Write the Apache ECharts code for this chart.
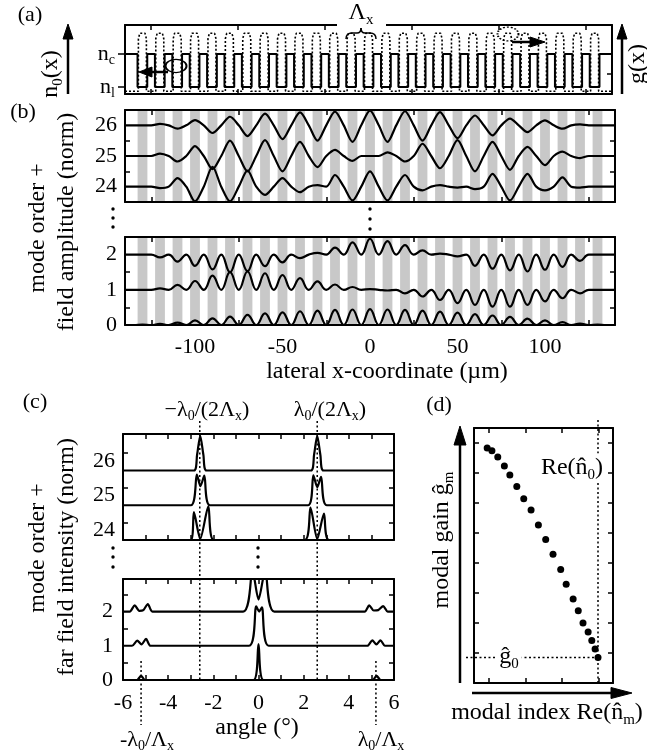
<!DOCTYPE html>
<html>
<head>
<meta charset="utf-8">
<title>Laser array modes</title>
<script src="https://cdn.jsdelivr.net/npm/echarts@6.0.0/dist/echarts.min.js"></script>
<style>
  html, body { margin: 0; padding: 0; background: #fff; }
  #chart { width: 647px; height: 755px; }
</style>
</head>
<body>
<div id="chart"></div>
<script>
// ---------------- data ----------------
// grating element centres (µm)
const elementCentres = [-130, -120, -110, -100, -90, -80, -70, -60, -50, -40, -30, -20, -10, 0,
                        10, 20, 30, 40, 50, 60, 70, 80, 90, 100, 110, 120, 130];
const lateralTickMarks = [-125, -75, -25, 25, 75, 125];
const lateralTickLabels = [-100, -50, 0, 50, 100];

// (a) refractive index and gain levels (normalised)
const indexLevels = [0.1, 0.58];
const indexLevelNames = ['l', 'c'];
const gainLevels = [0.04, 0.88];

// (b) near-field amplitude at each element centre, relative to the mode baseline
const upperModes = [24, 25, 26];
const field24 = [0, -0.05, 0.28, -0.48, 0.65, -0.48, 0.52, -0.27, 0.28, -0.18, 0.05, 0.38, -0.45, 0.5,
                 -0.45, 0.38, -0.12, 0.05, -0.03, -0.08, 0.42, -0.45, 0.42, -0.12, 0.3, -0.03, 0];
const field25 = [0, 0.08, -0.18, 0.32, -0.43, 0.5, -0.5, 0.52, -0.5, 0.46, -0.36, 0.2, -0.16, 0,
                 0.12, -0.18, 0.4, -0.4, 0.52, -0.5, 0.46, -0.45, 0.3, -0.3, 0.14, -0.07, 0];
const field26 = [0, 0.05, -0.11, 0.17, -0.25, 0.28, -0.35, 0.38, -0.45, 0.42, -0.5, 0.45, -0.54, 0.48,
                 -0.54, 0.46, -0.5, 0.43, -0.42, 0.32, -0.33, 0.22, -0.22, 0.16, -0.11, 0.03, 0];
const lowerModes = [0, 1, 2];
const field0 = [0.01, 0.03, 0.07, 0.13, 0.19, 0.24, 0.29, 0.33, 0.36, 0.39, 0.41, 0.43, 0.44, 0.45,
                0.44, 0.43, 0.41, 0.38, 0.35, 0.31, 0.27, 0.23, 0.18, 0.13, 0.08, 0.04, 0.01];
const field1 = [0, 0.04, 0.14, 0.25, 0.4, 0.5, 0.52, 0.47, 0.42, 0.33, 0.24, 0.15, 0.08, 0.02,
                -0.02, -0.1, -0.19, -0.29, -0.38, -0.43, -0.48, -0.48, -0.43, -0.33, -0.24, -0.1, 0];
const field2 = [0, -0.08, -0.2, -0.32, -0.42, -0.5, -0.47, -0.33, -0.22, -0.1, 0.05, 0.2, 0.35, 0.45,
                0.38, 0.27, 0.12, 0.03, -0.05, -0.32, -0.4, -0.45, -0.48, -0.43, -0.35, -0.18, 0];

// (c) far-field intensity: [angle (deg), intensity above the mode baseline]
const angleTickMarks = [-5, -4, -3, -2, -1, 0, 1, 2, 3, 4, 5];
const angleTickLabels = [-6, -4, -2, 0, 2, 4, 6];
const halfBraggAngle = 2.6;
const fullBraggAngle = 5.2;
const farField26 = [[-6, 0], [-2.86, 0], [-2.72, 0.45], [-2.58, 1.0], [-2.44, 0.45], [-2.3, 0],
                    [2.32, 0], [2.46, 0.45], [2.6, 1.0], [2.74, 0.45], [2.88, 0], [6, 0]];
const farField25 = [[-6, 0], [-3.0, 0], [-2.73, 0.88], [-2.57, 0.55], [-2.4, 0.85], [-2.15, 0],
                    [2.2, 0], [2.43, 0.86], [2.6, 0.52], [2.77, 0.82], [3.02, 0], [6, 0]];
const farField24 = [[-6, 0], [-3.0, 0], [-2.86, 0.8], [-2.58, 0.03], [-2.22, 0.97], [-1.98, 0],
                    [2.05, 0], [2.3, 0.93], [2.6, 0.03], [2.9, 0.76], [3.12, 0], [6, 0]];
const farField2 = [[-6, 0], [-5.7, 0], [-5.48, 0.18], [-5.28, 0.02], [-5.1, 0.04], [-4.9, 0.22], [-4.7, 0],
                   [-0.68, 0], [-0.27, 1.2], [0, 0.35], [0.3, 1.2], [0.7, 0],
                   [4.7, 0], [4.9, 0.18], [5.1, 0.03], [5.3, 0.04], [5.52, 0.16], [5.72, 0], [6, 0]];
const farField1 = [[-6, 0], [-5.6, 0], [-5.37, 0.15], [-5.18, 0.04], [-4.98, 0.2], [-4.78, 0],
                   [-0.42, 0], [-0.1, 1.15], [0.03, 1.0], [0.15, 1.12], [0.45, 0],
                   [4.82, 0], [5.04, 0.16], [5.22, 0.04], [5.4, 0.16], [5.6, 0], [6, 0]];
const farField0 = [[-6, 0], [-5.38, 0], [-5.2, 0.12], [-5.02, 0], [-0.22, 0], [0, 1.05], [0.22, 0],
                   [5.05, 0], [5.23, 0.12], [5.41, 0], [6, 0]];

// (d) modal gain versus real part of the modal index (arbitrary units)
const modalIndex = [0.36, 0.49, 0.65, 0.83, 0.98, 1.17, 1.36, 1.56, 1.76, 1.96, 2.16, 2.37, 2.52, 2.71,
                    2.85, 2.98, 3.12, 3.22, 3.31, 3.39];
const modalGain = [7.83, 7.74, 7.53, 7.23, 6.93, 6.55, 6.14, 5.77, 5.27, 4.78, 4.29, 3.78, 3.29, 2.80,
                   2.41, 2.0, 1.7, 1.42, 1.13, 0.85];
const indexTickMarks = [0.41, 1.41, 2.41, 3.41];
const gainTickMarks = [1, 2, 3, 4, 5, 6, 7, 8];

// ---------------- styling ----------------
const FONT = '"Liberation Serif", "Times New Roman", serif';
const TICK_FONT = 22;
const TITLE_FONT = 24;
const INK = '#000';
const STRIPE = '#c8c8c8';
const frameLine = { color: INK, width: 2 };
const tickLine = { color: INK, width: 1.5 };
const subRich = (size) => ({
  b: { fontSize: size, fontFamily: FONT, color: INK },
  s: { fontSize: Math.round(size * 0.62), fontFamily: FONT, color: INK, padding: [Math.round(size * 0.6), 0, 0, 0] }
});

const grids = [
  { left: 125, top: 25, width: 487, height: 69 },   // (a)
  { left: 125, top: 110, width: 490, height: 92 },  // (b) upper modes
  { left: 125, top: 237, width: 490, height: 88 },  // (b) lower modes
  { left: 123, top: 434, width: 271, height: 106 }, // (c) upper modes
  { left: 123, top: 579, width: 271, height: 101 }, // (c) lower modes
  { left: 474, top: 428, width: 139, height: 255 }  // (d)
];

const xAxes = [];
const yAxes = [];

function tick(values, opts) {
  return Object.assign({ show: true, inside: true, length: 5, lineStyle: tickLine, customValues: values }, opts || {});
}
function labels(values, opts) {
  return Object.assign({ show: true, customValues: values, color: INK, fontFamily: FONT, fontSize: TICK_FONT, margin: 10 }, opts || {});
}

// four framing axes per panel; returns the indices of the bottom x and left y axes
function frame(gridIndex, xs, ys) {
  const xi = xAxes.length, yi = yAxes.length;
  ['bottom', 'top'].forEach((position, k) => xAxes.push({
    type: 'value', gridIndex, position, min: xs.min, max: xs.max, z: 10,
    axisLine: { show: true, onZero: false, lineStyle: frameLine },
    axisTick: tick(xs.ticks),
    axisLabel: (k === 0 && xs.labels) ? labels(xs.labels, xs.labelOpts) : { show: false },
    splitLine: { show: false }
  }));
  ['left', 'right'].forEach((position, k) => yAxes.push({
    type: 'value', gridIndex, position, min: ys.min, max: ys.max, z: 10,
    axisLine: { show: true, onZero: false, lineStyle: frameLine },
    axisTick: tick(k === 0 ? ys.ticks : (ys.rightTicks || ys.ticks), k === 0 ? ys.leftTickOpts : null),
    axisLabel: (k === 0 && ys.labels) ? labels(ys.labels, ys.labelOpts) : { show: false },
    splitLine: { show: false }
  }));
  return { xi, yi };
}

const axA = frame(0, { min: -140, max: 140, ticks: lateralTickMarks },
  { min: 0, max: 1, ticks: indexLevels, rightTicks: [0.3, indexLevels[1]],
    leftTickOpts: { inside: false, length: 7 },
    labels: indexLevels,
    labelOpts: { margin: 10, rich: subRich(TICK_FONT),
      formatter: v => '{b|n}{s|' + indexLevelNames[indexLevels.indexOf(v)] + '}' } });
const axB1 = frame(1, { min: -140, max: 140, ticks: lateralTickMarks },
  { min: 23.5, max: 26.5, ticks: [24.5, 25.5], labels: upperModes, labelOpts: { margin: 8 } });
const axB2 = frame(2, { min: -140, max: 140, ticks: lateralTickMarks, labels: lateralTickLabels, labelOpts: { margin: 11 } },
  { min: 0, max: 2.5, ticks: [0.5, 1.5], labels: lowerModes, labelOpts: { margin: 8 } });
const axC1 = frame(3, { min: -6, max: 6, ticks: angleTickMarks },
  { min: 24, max: 27.05, ticks: [24.5, 25.5, 26.5], labels: upperModes.map(m => m + 0.28),
    labelOpts: { margin: 8, formatter: v => String(Math.floor(v)) } });
const axC2 = frame(4, { min: -6, max: 6, ticks: angleTickMarks, labels: angleTickLabels, labelOpts: { margin: 12 } },
  { min: 0, max: 2.95, ticks: [0.5, 1.5, 2.5], labels: lowerModes, labelOpts: { margin: 10 } });
const axD = frame(5, { min: 0, max: 3.8, ticks: indexTickMarks }, { min: 0, max: 8.5, ticks: gainTickMarks });

// ---------------- series builders ----------------
const elementHalfWidth = 2.8;
const gainHalfWidth = 2.3;
const halfPeriod = 5;

function indexProfile() {
  const [nl, nc] = indexLevels;
  const pts = [[-140, nc]];
  elementCentres.forEach(c => pts.push([c - elementHalfWidth, nc], [c - elementHalfWidth, nl],
                                       [c + elementHalfWidth, nl], [c + elementHalfWidth, nc]));
  pts.push([140, nc]);
  return pts;
}
function gainProfile() {
  const [lo, hi] = gainLevels;
  const pts = [[-140, lo]];
  elementCentres.forEach(c => pts.push([c - gainHalfWidth, lo], [c - gainHalfWidth, hi - 0.08],
                                       [c - gainHalfWidth + 0.8, hi], [c + gainHalfWidth - 0.8, hi],
                                       [c + gainHalfWidth, hi - 0.08], [c + gainHalfWidth, lo]));
  pts.push([140, lo]);
  return pts;
}
// field returns to the mode baseline between neighbouring elements
function nearField(base, amps) {
  const pts = [[-140, base], [elementCentres[0] - halfPeriod, base]];
  amps.forEach((a, i) => pts.push([elementCentres[i], base + a], [elementCentres[i] + halfPeriod, base]));
  pts.push([140, base]);
  return pts;
}
function farField(base, pts) {
  return pts.map(([a, v]) => [a, base + v]);
}

function curve(ax, data, smooth, extra) {
  return Object.assign({
    type: 'line', xAxisIndex: ax.xi, yAxisIndex: ax.yi, data, smooth, showSymbol: false,
    symbol: 'none', silent: true, z: 3, clip: true,
    lineStyle: { color: INK, width: 2.2 }
  }, extra || {});
}
function stripes(ax, yMin) {
  return {
    type: 'line', xAxisIndex: ax.xi, yAxisIndex: ax.yi, data: [[-140, yMin]], symbol: 'none',
    lineStyle: { opacity: 0 }, silent: true, z: 1,
    markArea: {
      silent: true,
      itemStyle: { color: STRIPE, opacity: 1 },
      data: elementCentres.map(c => [{ xAxis: c - elementHalfWidth }, { xAxis: c + elementHalfWidth }])
    }
  };
}

const series = [
  curve(axA, gainProfile(), false, { lineStyle: { color: INK, width: 1.6, type: [2, 2] } }),
  curve(axA, indexProfile(), false, { lineStyle: { color: INK, width: 2 } }),
  stripes(axB1, 23.5),
  curve(axB1, nearField(24, field24), 0.3),
  curve(axB1, nearField(25, field25), 0.3),
  curve(axB1, nearField(26, field26), 0.3),
  stripes(axB2, 0),
  curve(axB2, nearField(0, field0), 0.45),
  curve(axB2, nearField(1, field1), 0.45),
  curve(axB2, nearField(2, field2), 0.45),
  curve(axC1, farField(24, farField24), 0.25),
  curve(axC1, farField(25, farField25), 0.25),
  curve(axC1, farField(26, farField26), 0.25),
  curve(axC2, farField(0, farField0), 0.25),
  curve(axC2, farField(1, farField1), 0.25),
  curve(axC2, farField(2, farField2), 0.25),
  {
    type: 'scatter', xAxisIndex: axD.xi, yAxisIndex: axD.yi, z: 3, silent: true,
    data: modalIndex.map((x, i) => [x, modalGain[i]]),
    symbol: 'circle', symbolSize: 7, itemStyle: { color: INK, opacity: 1 }
  }
];

const chart = echarts.init(document.getElementById('chart'), null, { renderer: 'canvas' });
chart.setOption({
  animation: false,
  backgroundColor: '#fff',
  grid: grids.map(g => Object.assign({ show: false, containLabel: false }, g)),
  xAxis: xAxes,
  yAxis: yAxes,
  series
});

// ---------------- annotations ----------------
const dotted = { stroke: INK, lineWidth: 1.5, lineDash: [2, 2.5], fill: 'none' };
function text(x, y, str, size, extraStyle) {
  return {
    type: 'text', x, y, z: 100, silent: true,
    style: Object.assign({ text: str, fill: INK, fontFamily: FONT, fontSize: size,
      align: 'center', verticalAlign: 'middle', rich: subRich(size) }, extraStyle || {})
  };
}
function rotText(x, y, str, size) {
  const t = text(x, y, str, size);
  t.rotation = Math.PI / 2;
  return t;
}
function seg(x1, y1, x2, y2, style) {
  return { type: 'line', z: 90, silent: true, shape: { x1, y1, x2, y2 }, style };
}
function curveSeg(x1, y1, cpx1, cpy1, x2, y2, style) {
  return { type: 'bezierCurve', z: 90, silent: true, shape: { x1, y1, x2, y2, cpx1, cpy1 }, style };
}
function tri(points) {
  return { type: 'polygon', z: 95, silent: true, shape: { points }, style: { fill: INK, stroke: INK, lineWidth: 1 } };
}
function dots(x, ys) {
  return ys.map(y => ({ type: 'circle', z: 95, silent: true, shape: { cx: x, cy: y, r: 1.7 }, style: { fill: INK } }));
}
const solidArrow = { stroke: INK, lineWidth: 2.5 };
const brace = { stroke: INK, lineWidth: 1.5, fill: 'none' };

const graphics = [];
try {
  const cx = v => chart.convertToPixel({ xAxisIndex: axC2.xi }, v);
  const dx = v => chart.convertToPixel({ xAxisIndex: axD.xi }, v);
  const dy = v => chart.convertToPixel({ yAxisIndex: axD.yi }, v);
  const reN0 = modalIndex[modalIndex.length - 1];
  const g0 = modalGain[modalGain.length - 1];

  graphics.push(
    // (a)
    text(30, 15, '(a)', 22),
    rotText(51, 74, 'n{s|0}(x)', TITLE_FONT),
    seg(68, 94, 68, 36, solidArrow), tri([[63, 39], [73, 39], [68, 24]]),
    rotText(638, 64, 'g(x)', TITLE_FONT),
    seg(622, 94, 622, 36, solidArrow), tri([[617, 39], [627, 39], [622, 24]]),
    { type: 'rect', z: 80, silent: true, shape: { x: 337, y: 21, width: 49, height: 8 }, style: { fill: '#fff' } },
    text(361, 13, 'Λ{s|x}', TITLE_FONT),
    curveSeg(346, 39, 346, 33, 352, 33, brace), seg(352, 33, 357, 33, brace),
    curveSeg(357, 33, 361, 33, 361, 28, brace), curveSeg(361, 28, 361, 33, 365, 33, brace),
    seg(365, 33, 370, 33, brace), curveSeg(370, 33, 376, 33, 376, 39, brace),
    { type: 'circle', z: 95, silent: true, x: 176, y: 66, scaleY: 0.62, shape: { cx: 0, cy: 0, r: 10.5 },
      style: { fill: 'none', stroke: INK, lineWidth: 2, strokeNoScale: true } },
    seg(168, 72, 150, 72, solidArrow), tri([[152, 67], [152, 77], [139, 72]]),
    { type: 'circle', z: 95, silent: true, x: 508, y: 34, scaleY: 0.66, shape: { cx: 0, cy: 0, r: 10.5 },
      style: { fill: 'none', stroke: INK, lineWidth: 2, lineDash: [2, 2], strokeNoScale: true } },
    seg(512, 42, 532, 42, solidArrow), tri([[530, 37], [530, 47], [545, 42]]),

    // (b)
    text(23, 112, '(b)', 22),
    rotText(38, 228, 'mode order +', TITLE_FONT),
    rotText(67, 222, 'field amplitude (norm)', TITLE_FONT),
    text(387, 372, 'lateral x-coordinate (µm)', TITLE_FONT),
    ...dots(113, [209, 218, 227]),
    ...dots(370, [209, 219, 229]),

    // (c)
    text(35, 402, '(c)', 22),
    rotText(38, 548, 'mode order +', TITLE_FONT),
    rotText(67, 557, 'far field intensity (norm)', TITLE_FONT),
    text(257, 728, 'angle (°)', TITLE_FONT),
    text(207, 410, '−λ{s|0}/(2Λ{s|x})', TICK_FONT),
    text(330, 410, 'λ{s|0}/(2Λ{s|x})', TICK_FONT),
    text(147, 740, '-λ{s|0}/Λ{s|x}', TICK_FONT),
    text(381, 740, 'λ{s|0}/Λ{s|x}', TICK_FONT),
    seg(cx(-halfBraggAngle), 421, cx(-halfBraggAngle), 680, dotted),
    seg(cx(halfBraggAngle), 421, cx(halfBraggAngle), 680, dotted),
    seg(cx(-fullBraggAngle), 661, cx(-fullBraggAngle), 725, dotted),
    seg(cx(fullBraggAngle), 661, cx(fullBraggAngle), 725, dotted),
    ...dots(113, [548, 557, 567]),
    ...dots(258, [548, 557, 567]),

    // (d)
    text(439, 405, '(d)', 22),
    rotText(442, 540, 'modal gain ĝ{s|m}', TITLE_FONT),
    text(547, 713, 'modal index Re(n̂{s|m})', TITLE_FONT),
    seg(460, 683, 460, 440, solidArrow), tri([[454, 445], [466, 445], [460, 426]]),
    seg(472, 693, 614, 693, solidArrow), tri([[611, 687.5], [611, 698.5], [632, 693]]),
    seg(dx(reN0), 420, dx(reN0), 683, dotted),
    seg(466, dy(g0), dx(reN0), dy(g0), dotted),
    text(572, 468, 'Re(n̂{s|0})', TITLE_FONT, { backgroundColor: '#fff', padding: [0, 1] }),
    text(509, 657, 'ĝ{s|0}', TITLE_FONT, { backgroundColor: '#fff', padding: [0, 3] })
  );
} catch (err) {
  console.error(err);
}

chart.setOption({ graphic: { elements: graphics } });
</script>
</body>
</html>
